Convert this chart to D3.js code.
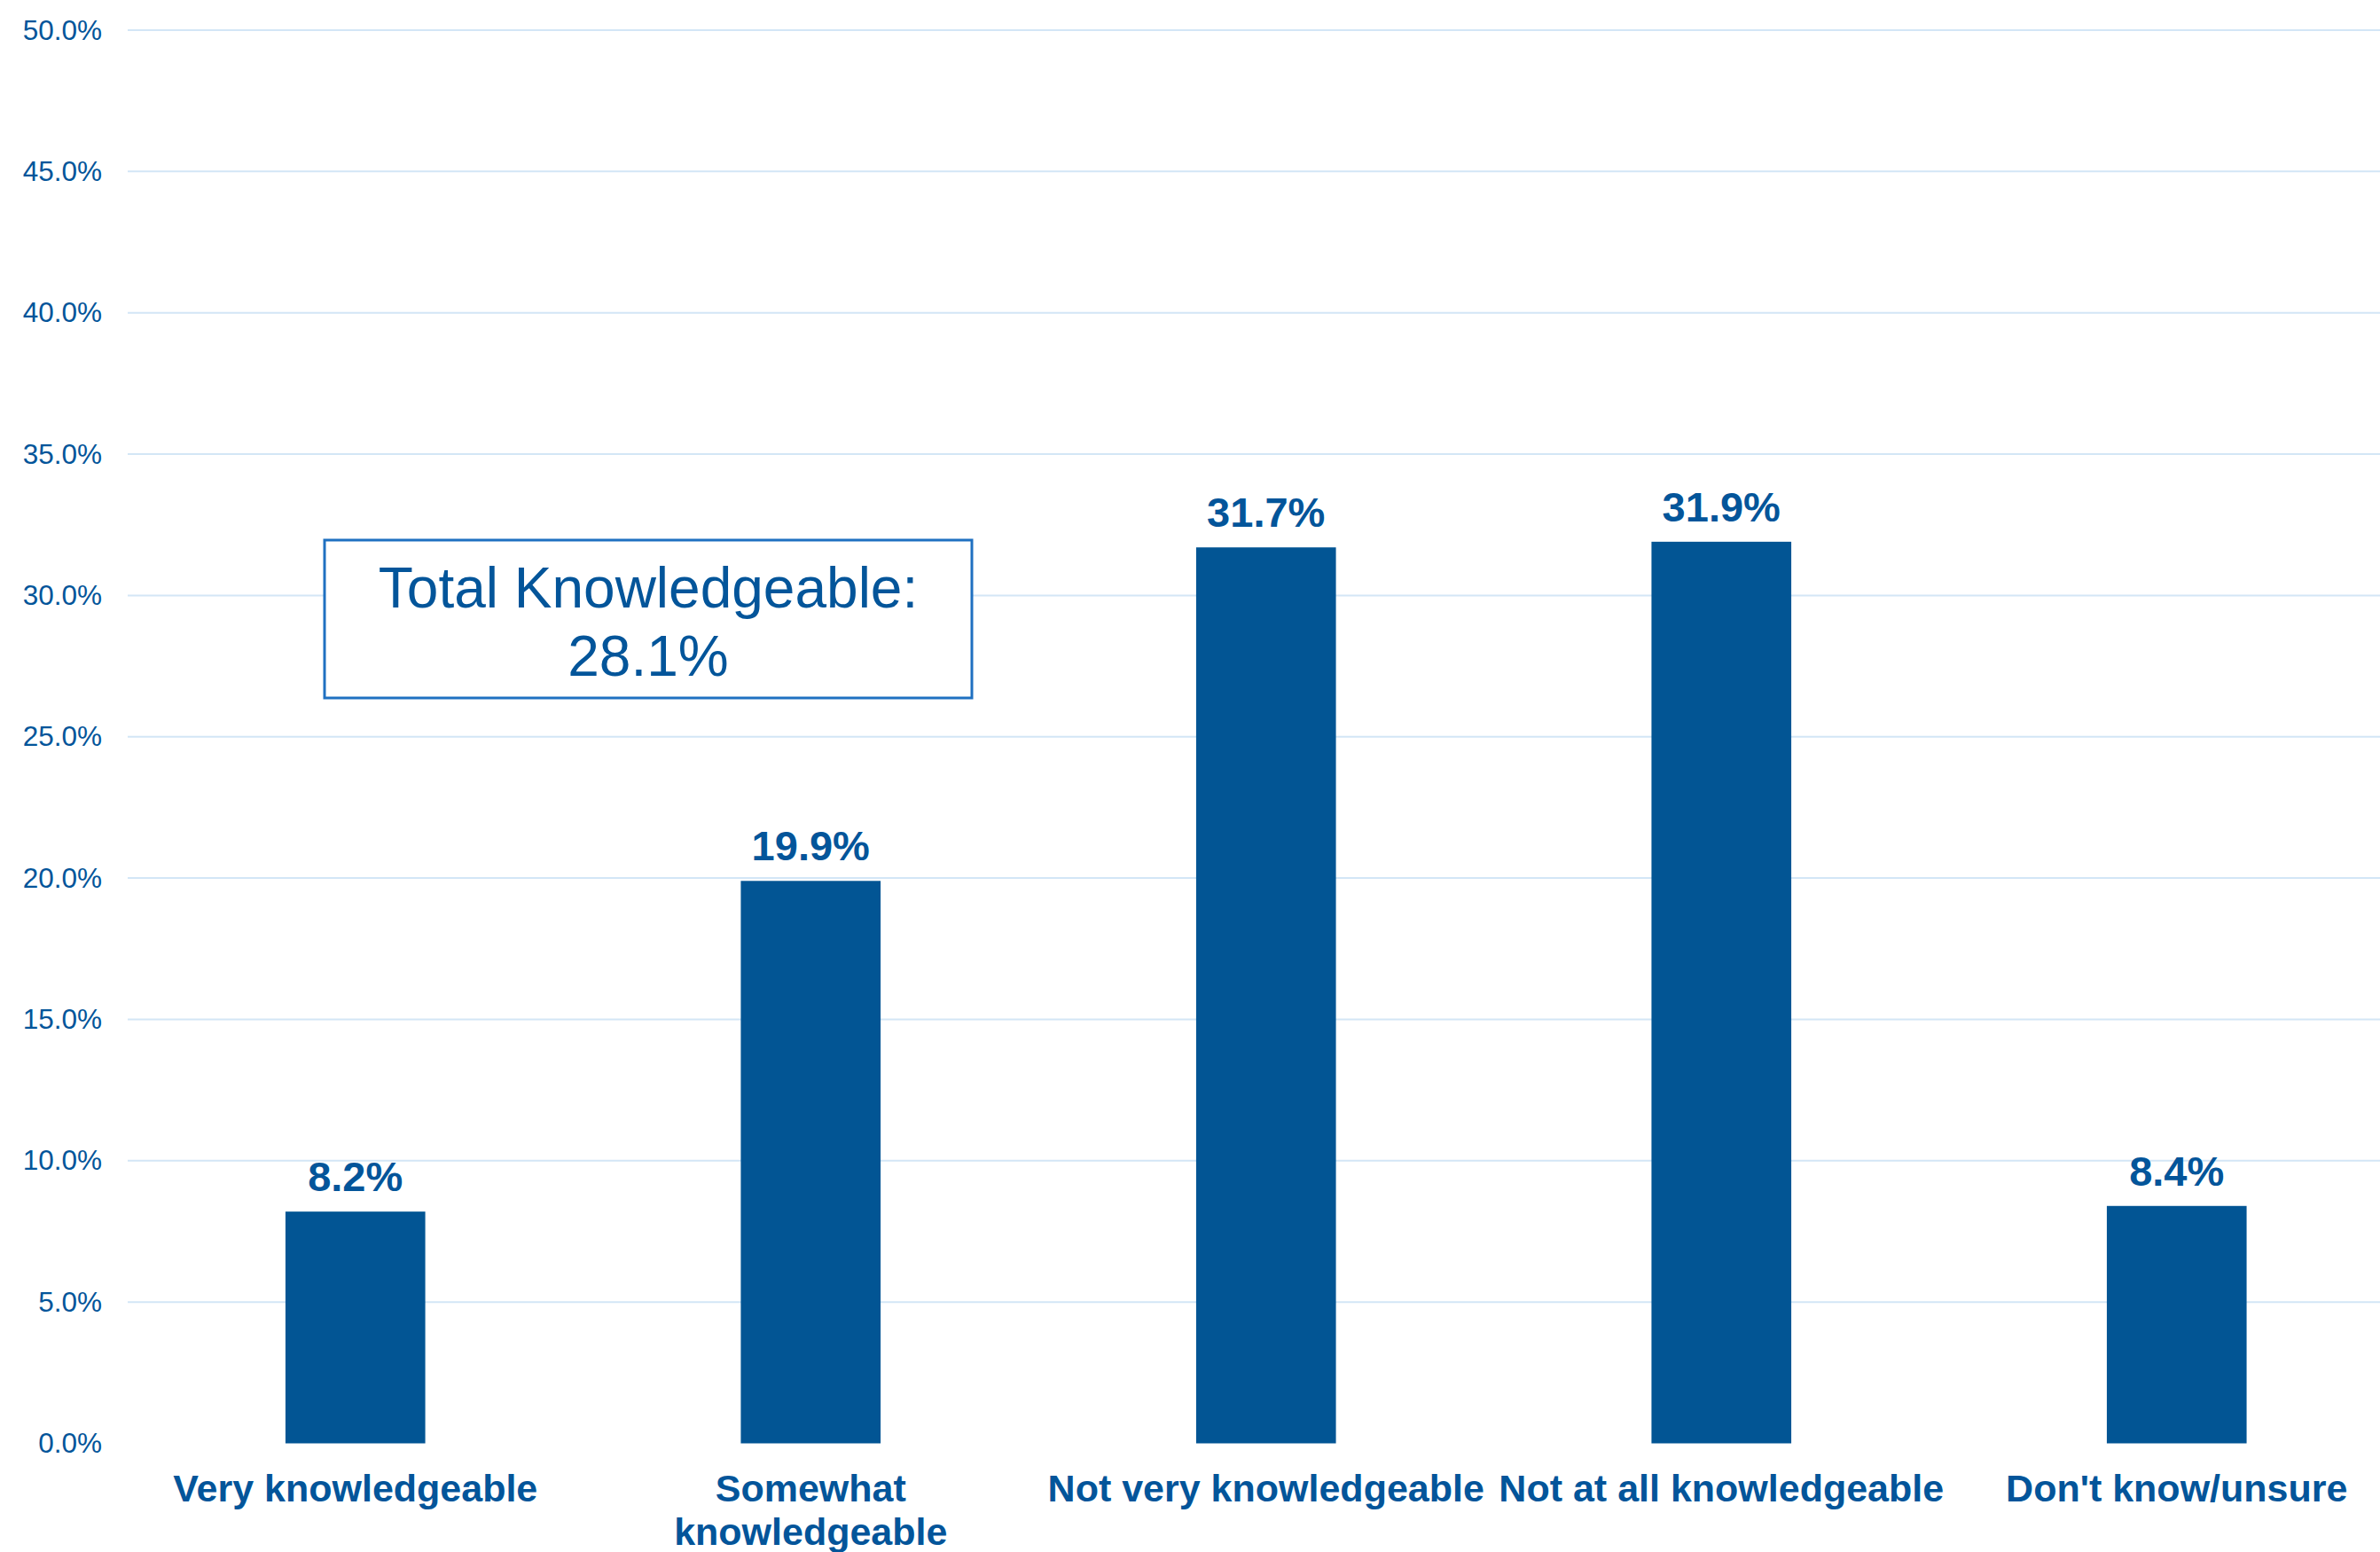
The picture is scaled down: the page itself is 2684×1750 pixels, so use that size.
<!DOCTYPE html>
<html>
<head>
<meta charset="utf-8">
<script src="https://cdn.jsdelivr.net/npm/d3@7"></script>
<style>
  html, body { margin: 0; padding: 0; background: #ffffff; }
  svg { display: block; font-family: "Liberation Sans", Arial, sans-serif; }
</style>
</head>
<body>
<svg id="chart" width="2684" height="1750"></svg>
<script>
const categories = ["Very knowledgeable", "Somewhat knowledgeable", "Not very knowledgeable", "Not at all knowledgeable", "Don't know/unsure"];
const values = [0.082, 0.199, 0.317, 0.319, 0.084];
const yTicks = [0, 0.05, 0.10, 0.15, 0.20, 0.25, 0.30, 0.35, 0.40, 0.45, 0.50];
const annotationLines = ["Total Knowledgeable:", "28.1%"];

const W = 2684, H = 1750;
const barColor = "#025594";
const textColor = "#03559A";
const gridColor = "#D3E6F6";
const boxColor = "#1F70C1";

const svg = d3.select("#chart");

const plotLeft = 144, step = 513.5;
const x = d3.scaleBand()
  .domain(categories)
  .range([plotLeft, plotLeft + step * categories.length])
  .paddingInner(0.693)
  .paddingOuter(0.3465);

const y = d3.scaleLinear().domain([0, 0.5]).range([1627.5, 34]);

// gridlines
svg.append("g").selectAll("line")
  .data(yTicks.filter(d => d > 0))
  .join("line")
  .attr("x1", plotLeft).attr("x2", W)
  .attr("y1", d => y(d)).attr("y2", d => y(d))
  .attr("stroke", gridColor).attr("stroke-width", 2);

// y axis labels
const yAxis = d3.axisLeft(y).tickValues(yTicks).tickFormat(d3.format(".1%")).tickSize(0).tickPadding(0);
const gy = svg.append("g").attr("transform", "translate(115,0)").call(yAxis);
gy.select(".domain").remove();
gy.selectAll("text")
  .attr("fill", textColor)
  .style("font-size", "31.5px")
  .style("font-family", "'Liberation Sans', Arial, sans-serif");

// bars
svg.append("g").selectAll("rect")
  .data(values)
  .join("rect")
  .attr("x", (d, i) => x(categories[i]))
  .attr("width", x.bandwidth())
  .attr("y", d => y(d))
  .attr("height", d => y(0) - y(d))
  .attr("fill", barColor);

// value labels
svg.append("g").selectAll("text")
  .data(values)
  .join("text")
  .attr("x", (d, i) => x(categories[i]) + x.bandwidth() / 2)
  .attr("y", d => y(d) - 23)
  .attr("text-anchor", "middle")
  .attr("fill", textColor)
  .style("font-size", "47px")
  .style("font-weight", "bold")
  .text(d => d3.format(".1%")(d));

// category labels with wrapping
const catG = svg.append("g");
categories.forEach(c => {
  const cx = x(c) + x.bandwidth() / 2;
  const t = catG.append("text")
    .attr("x", cx).attr("y", 1693)
    .attr("text-anchor", "middle")
    .attr("fill", textColor)
    .style("font-size", "43px")
    .style("font-weight", "bold");
  const words = c.split(" ");
  let line = [];
  let lineNo = 0;
  let tspan = t.append("tspan").attr("x", cx).attr("y", 1693);
  words.forEach(w => {
    line.push(w);
    tspan.text(line.join(" "));
    if (tspan.node().getComputedTextLength() > step - 6 && line.length > 1) {
      line.pop();
      tspan.text(line.join(" "));
      line = [w];
      lineNo++;
      tspan = t.append("tspan").attr("x", cx).attr("y", 1693 + lineNo * 49).text(w);
    }
  });
});

// annotation box
const box = { x0: 366, x1: 1096, y0: 609, y1: 787 };
svg.append("rect")
  .attr("x", box.x0).attr("y", box.y0)
  .attr("width", box.x1 - box.x0).attr("height", box.y1 - box.y0)
  .attr("fill", "#ffffff")
  .attr("stroke", boxColor).attr("stroke-width", 3);
svg.append("g").selectAll("text")
  .data(annotationLines)
  .join("text")
  .attr("x", (box.x0 + box.x1) / 2)
  .attr("y", (d, i) => 685 + i * 77)
  .attr("text-anchor", "middle")
  .attr("fill", textColor)
  .style("font-size", "64px")
  .text(d => d);
</script>
</body>
</html>
